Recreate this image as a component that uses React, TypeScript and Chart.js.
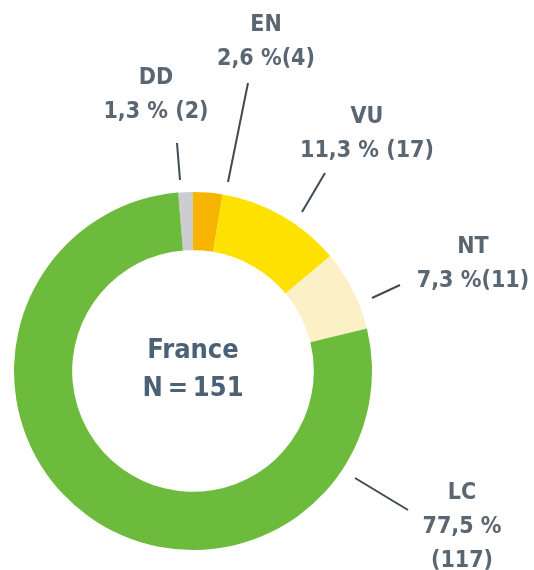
import React, { useEffect, useRef } from "react";
import { Chart, registerables } from "chart.js";

Chart.register(...registerables);

const categories = ["DD", "EN", "VU", "NT", "LC"];
const counts = [2, 4, 17, 11, 117];
const colors = ["#cdcdd1", "#f7b400", "#ffe100", "#fbf0c6", "#6cbb3c"];
const labelLines = [
  ["DD", "1,3 % (2)"],
  ["EN", "2,6 %(4)"],
  ["VU", "11,3 % (17)"],
  ["NT", "7,3 %(11)"],
  ["LC", "77,5 %", "(117)"],
];
const centerLines = ["France", "N\u2009=\u2009151"];

// annotation layout (label centre x, first line y, leader line from -> to)
const layout = [
  { x: 156, y: 78, line: [177, 143, 180, 180] },
  { x: 266, y: 25, line: [248, 83, 228, 182] },
  { x: 367, y: 117, line: [325, 173, 302, 212] },
  { x: 473, y: 247, line: [400, 285, 372, 298] },
  { x: 462, y: 493, line: [355, 478, 408, 510] },
];

const FONT = '"Liberation Sans Narrow", "DejaVu Sans Condensed", sans-serif';

export default function App() {
  const ref = useRef<HTMLCanvasElement>(null);
  useEffect(() => {
    document.body.style.margin = "0";
    const total = counts.reduce((a, b) => a + b, 0);
    const labelPlugin = {
      id: "labels",
      afterDraw(chart: any) {
        const ctx = chart.ctx;
        const meta = chart.getDatasetMeta(0);
        const arc0 = meta.data[0];
        ctx.save();
        ctx.textAlign = "center";
        ctx.textBaseline = "middle";
        layout.forEach((l, i) => {
          ctx.strokeStyle = "#3f4a54";
          ctx.lineWidth = 2;
          ctx.beginPath();
          ctx.moveTo(l.line[0], l.line[1]);
          ctx.lineTo(l.line[2], l.line[3]);
          ctx.stroke();
          ctx.fillStyle = "#5a6672";
          ctx.font = "bold 23px " + FONT;
          labelLines[i].forEach((t, j) => {
            ctx.fillText(t, l.x, l.y + j * 34);
          });
        });
        ctx.fillStyle = "#4b6175";
        ctx.font = "bold 27px " + FONT;
        ctx.fillText(centerLines[0], arc0.x, arc0.y - 20);
        ctx.fillText(centerLines[1], arc0.x, arc0.y + 18);
        ctx.restore();
      },
    };
    const chart = new Chart(ref.current!, {
      type: "doughnut",
      data: {
        labels: categories,
        datasets: [
          {
            data: counts,
            backgroundColor: colors,
            borderWidth: 0,
          },
        ],
      },
      options: {
        responsive: false,
        animation: false,
        cutout: "67.5%",
        rotation: -(counts[0] / total) * 360,
        layout: { padding: { left: 14, right: 162, top: 192, bottom: 20 } },
        plugins: { legend: { display: false }, tooltip: { enabled: false } },
      },
      plugins: [labelPlugin],
    });
    return () => chart.destroy();
  }, []);
  return (
    <div style={{ position: "absolute", left: 0, top: 0, width: 534, height: 570, background: "#fff" }}>
      <canvas ref={ref} width={534} height={570} />
    </div>
  );
}
